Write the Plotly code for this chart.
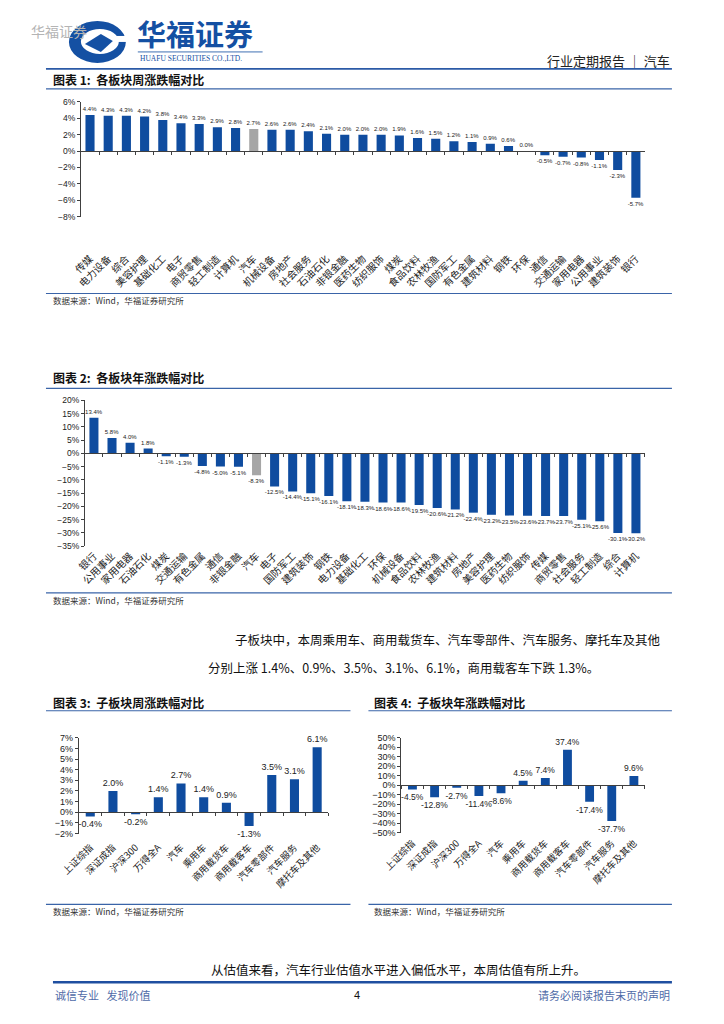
import plotly.graph_objects as go

# page size (the chart is a full report page)
W, H = 724, 1024

# the photographed page lands slightly shifted/scaled, so positions below are
# given in picture pixels and mapped back to paper coordinates here
OFF_X, SCALE_X = 27, 0.974
OFF_Y, SCALE_Y = 12, 0.992


def px(x):
    return (x - OFF_X) / SCALE_X / W


def py(y):
    return 1 - (y - OFF_Y) / SCALE_Y / H


# ---- data -------------------------------------------------------------
week_sectors = ["传媒", "电力设备", "综合", "美容护理", "基础化工", "电子", "商贸零售",
                "轻工制造", "计算机", "汽车", "机械设备", "房地产", "社会服务", "石油石化",
                "非银金融", "医药生物", "纺织服饰", "煤炭", "食品饮料", "农林牧渔", "国防军工",
                "有色金属", "建筑材料", "钢铁", "环保", "通信", "交通运输", "家用电器",
                "公用事业", "建筑装饰", "银行"]
week_values = [4.4, 4.3, 4.3, 4.2, 3.8, 3.4, 3.3, 2.9, 2.8, 2.7, 2.6, 2.6, 2.4, 2.1,
               2.0, 2.0, 2.0, 1.9, 1.6, 1.5, 1.2, 1.1, 0.9, 0.6, 0.0, -0.5, -0.7, -0.8,
               -1.1, -2.3, -5.7]

year_sectors = ["银行", "公用事业", "家用电器", "石油石化", "煤炭", "交通运输", "有色金属",
                "通信", "非银金融", "汽车", "电子", "国防军工", "建筑装饰", "钢铁", "电力设备",
                "基础化工", "环保", "机械设备", "食品饮料", "农林牧渔", "建筑材料", "房地产",
                "美容护理", "医药生物", "纺织服饰", "传媒", "商贸零售", "社会服务", "轻工制造",
                "综合", "计算机"]
year_values = [13.4, 5.8, 4.0, 1.8, -1.1, -1.3, -4.8, -5.0, -5.1, -8.3, -12.5, -14.4,
               -15.1, -16.1, -18.1, -18.3, -18.6, -18.6, -19.5, -20.6, -21.2, -22.4,
               -23.2, -23.5, -23.6, -23.7, -23.7, -25.1, -25.6, -30.1, -30.2]

sub_sectors = ["上证综指", "深证成指", "沪深300", "万得全A", "汽车", "乘用车", "商用载货车",
               "商用载客车", "汽车零部件", "汽车服务", "摩托车及其他"]
sub_week = [-0.4, 2.0, -0.2, 1.4, 2.7, 1.4, 0.9, -1.3, 3.5, 3.1, 6.1]
sub_year = [-4.5, -12.8, -2.7, -11.4, -8.6, 4.5, 7.4, 37.4, -17.4, -37.7, 9.6]

BLUE = "#0F4C9F"
GREY = "#A6A6A6"
LINE_BLUE = "#3A64A8"
AXIS = "#404040"
CJK = "Noto Sans CJK SC"
NUM = "Liberation Sans"

fig = go.Figure()

# chart boxes: x left/right, y pixel of top/bottom tick, range, dtick, label standoff
charts = [
    dict(cats=week_sectors, vals=week_values, left=80, right=645, top=101, bottom=216,
         lo=-8, hi=6, dtick=2, standoff=97, bargap=0.5, text=6, tick=10, ytick=8.5),
    dict(cats=year_sectors, vals=year_values, left=84, right=645, top=400, bottom=546,
         lo=-35, hi=20, dtick=5, standoff=92, bargap=0.5, text=6, tick=10, ytick=8.5),
    dict(cats=sub_sectors, vals=sub_week, left=78, right=328, top=738, bottom=834,
         lo=-2, hi=7, dtick=1, standoff=25, bargap=0.6, text=9, tick=9.5, ytick=9),
    dict(cats=sub_sectors, vals=sub_year, left=401, right=645, top=738, bottom=833,
         lo=-50, hi=50, dtick=10, standoff=48, bargap=0.6, text=8.5, tick=9.5, ytick=9),
]

layout_axes = {}
for i, c in enumerate(charts, start=1):
    sfx = "" if i == 1 else str(i)
    colors = [GREY if name == "汽车" and i <= 2 else BLUE for name in c["cats"]]
    fig.add_trace(go.Bar(
        x=c["cats"], y=c["vals"],
        xaxis="x" + sfx, yaxis="y" + sfx,
        marker_color=colors,
        marker_line_width=0,
        texttemplate="%{y:.1f}%",
        textposition="outside",
        textangle=0,
        constraintext="none",
        cliponaxis=False,
        textfont=dict(size=c["text"], color="#222", family=NUM),
        width=1 - c["bargap"],
        showlegend=False,
    ))
    y0, y1 = py(c["bottom"]), py(c["top"])
    zero = y0 + (0 - c["lo"]) / (c["hi"] - c["lo"]) * (y1 - y0)
    layout_axes["xaxis" + sfx] = dict(
        domain=[px(c["left"]), px(c["right"])], anchor="free", position=zero,
        type="category", showline=True, linecolor=AXIS, linewidth=1,
        ticks="outside", ticklen=3, tickcolor=AXIS, tickson="boundaries",
        tickangle=-45, ticklabelstandoff=c["standoff"],
        tickfont=dict(size=c["tick"], color="#222", family=CJK),
        showgrid=False, zeroline=False, fixedrange=True,
    )
    layout_axes["yaxis" + sfx] = dict(
        domain=[y0, y1], range=[c["lo"], c["hi"]], anchor="x" + sfx,
        dtick=c["dtick"], tick0=0, ticksuffix="%", showline=True, linecolor=AXIS,
        linewidth=1, ticks="outside", ticklen=3, tickcolor=AXIS,
        tickfont=dict(size=c["ytick"], color="#222", family=NUM),
        showgrid=False, zeroline=False, fixedrange=True,
    )

# ---- page decorations ------------------------------------------------
shapes = []


def hline(y, x0, x1, width=1.2, color=LINE_BLUE):
    shapes.append(dict(type="line", xref="paper", yref="paper", x0=px(x0), x1=px(x1),
                       y0=py(y), y1=py(y), line=dict(color=color, width=width)))


hline(68, 45, 672, 1.6, "#2B5AA6")
hline(88, 45, 672)
hline(293, 45, 672)
hline(388, 45, 672)
hline(593, 45, 672)
hline(711, 45, 350)
hline(711, 368, 672)
hline(905, 45, 350)
hline(905, 368, 672)
hline(983, 52, 672, 2.6, "#1F4FA0")
hline(51, 137, 262, 0.8, BLUE)

# logo swirl
shapes.append(dict(type="circle", xref="paper", yref="paper", x0=px(68), x1=px(125),
                   y0=py(62), y1=py(20), fillcolor="#1450A3", line_width=0))
shapes.append(dict(type="circle", xref="paper", yref="paper", x0=px(80), x1=px(118),
                   y0=py(53), y1=py(28), fillcolor="white", line_width=0))
shapes.append(dict(type="path", xref="paper", yref="paper",
                   path=f"M {px(84)} {py(43)} L {px(100)} {py(33)} L {px(112)} {py(40)} "
                        f"L {px(100)} {py(51)} Z",
                   fillcolor="#1450A3", line_width=0))
shapes.append(dict(type="rect", xref="paper", yref="paper", x0=px(113), x1=px(126),
                   y0=py(41), y1=py(35), fillcolor="white", line_width=0))


def note(x, y, text, size=12, color="#111", anchor="left", family=CJK):
    fig.add_annotation(x=px(x), y=py(y), xref="paper", yref="paper", text=text,
                       showarrow=False, xanchor=anchor, yanchor="middle",
                       font=dict(size=size, color=color, family=family))


note(28, 30, "华福证券", 14, "#B4B4B4")
note(134, 32, "<b>华福证券</b>", 29, "#1450A3")
note(137, 58, "HUAFU SECURITIES CO.,LTD.", 7.5, "#1450A3", family="Liberation Serif")
note(672, 60, "行业定期报告 ｜ 汽车", 13, "#222", "right")

note(50, 79, "<b>图表 1:  各板块周涨跌幅对比</b>", 12)
note(50, 300, "数据来源：Wind，华福证券研究所", 8.5, "#333")
note(50, 377, "<b>图表 2:  各板块年涨跌幅对比</b>", 12)
note(50, 600, "数据来源：Wind，华福证券研究所", 8.5, "#333")

note(232, 640, "子板块中，本周乘用车、商用载货车、汽车零部件、汽车服务、摩托车及其他", 12.5)
note(205, 668, "分别上涨 1.4%、0.9%、3.5%、3.1%、6.1%，商用载客车下跌 1.3%。", 12.5)

note(50, 703, "<b>图表 3:  子板块周涨跌幅对比</b>", 12)
note(372, 703, "<b>图表 4:  子板块年涨跌幅对比</b>", 12)
note(50, 912, "数据来源：Wind，华福证券研究所", 8.5, "#333")
note(372, 912, "数据来源：Wind，华福证券研究所", 8.5, "#333")

note(208, 970, "从估值来看，汽车行业估值水平进入偏低水平，本周估值有所上升。", 12.5)
note(52, 996, "诚信专业   发现价值", 11, "#4F6BA8")
note(357, 996, "4", 11, "#111", "center", NUM)
note(672, 996, "请务必阅读报告末页的声明", 11, "#4F6BA8", "right")

fig.update_layout(
    width=W, height=H,
    margin=dict(l=0, r=0, t=0, b=0),
    paper_bgcolor="white",
    plot_bgcolor="white",
    font=dict(family=CJK, size=10, color="#222"),
    shapes=shapes,
    **layout_axes,
)

fig.write_html("out.html")
